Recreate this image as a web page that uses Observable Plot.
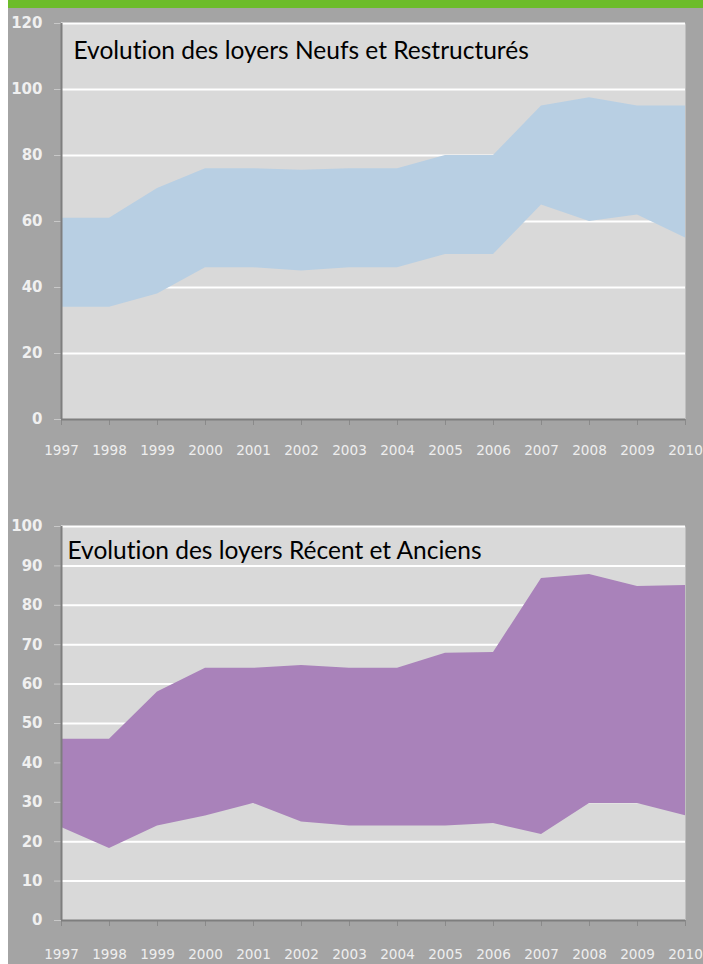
<!DOCTYPE html>
<html>
<head>
<meta charset="utf-8">
<script src="https://cdn.jsdelivr.net/npm/d3@7"></script>
<script src="https://cdn.jsdelivr.net/npm/@observablehq/plot@0.6"></script>
<style>
  html, body { margin: 0; padding: 0; }
  body { width: 703px; height: 964px; background: #a4a4a4; position: relative; overflow: hidden; }
  #strip { position: absolute; left: 0; top: 0; width: 8px; height: 964px; background: #ffffff; }
  #green { position: absolute; left: 8px; top: 0; width: 695px; height: 8px; background: #6cbc2a; }
  #c1 { position: absolute; left: 0; top: 8px; }
  #c2 { position: absolute; left: 0; top: 478px; }
  svg { display: block; }
  svg text { font-variant-ligatures: none; }
</style>
</head>
<body>
<div id="strip"></div>
<div id="green"></div>
<div id="c1"></div>
<div id="c2"></div>
<script>
const years = [1997, 1998, 1999, 2000, 2001, 2002, 2003, 2004, 2005, 2006, 2007, 2008, 2009, 2010];
// Loyers Neufs et Restructurés
const neufsBas  = [34, 34, 38, 46, 46, 45, 46, 46, 50, 50, 65, 60, 62, 55];
const neufsHaut = [61, 61, 70, 76, 76, 75.5, 76, 76, 80, 80, 95, 97.5, 95, 95];
// Loyers Récent et Anciens
const recentsBas  = [23.6, 18.3, 24, 26.5, 29.7, 25, 24, 24, 24, 24.6, 21.8, 29.7, 29.7, 26.6];
const recentsHaut = [46, 46, 58, 64, 64, 64.7, 64, 64, 67.8, 68, 86.8, 87.8, 84.8, 85];

const title1 = "Evolution des loyers Neufs et Restructurés";
const title2 = "Evolution des loyers Récent et Anciens";
const yTicks1 = [0, 20, 40, 60, 80, 100, 120];
const yTicks2 = [0, 10, 20, 30, 40, 50, 60, 70, 80, 90, 100];

function makeChart({bas, haut, fill, title, yTicks, yMax, height, marginTop, marginBottom, xPad, titleDx, titleDy}) {
  const data = years.map((y, i) => ({year: y, lo: bas[i], hi: haut[i]}));
  return Plot.plot({
    width: 703,
    height,
    marginLeft: 61,
    marginRight: 18,
    marginTop,
    marginBottom,
    style: {background: "transparent", fontFamily: "DejaVu Sans", fontSize: "15px"},
    x: {domain: [1997, 2010]},
    y: {domain: [0, yMax]},
    marks: [
      Plot.frame({fill: "#d9d9d9", stroke: null}),
      Plot.ruleY(yTicks.filter(d => d > 0), {stroke: "#ffffff", strokeWidth: 2}),
      Plot.areaY(data, {x: "year", y1: "lo", y2: "hi", fill, fillOpacity: 1}),
      Plot.axisY({ticks: yTicks, tickSize: 7, tickPadding: 12, stroke: "#c8c8c8", fill: "#f0f0f0", fontSize: 15, fontWeight: "bold", label: null}),
      Plot.axisX({ticks: years, tickFormat: d => String(d), tickSize: 6, tickPadding: xPad, stroke: "#8a8a8a", fill: "#eeeeee", fontSize: 13.6, label: null}),
      Plot.ruleX([1997], {stroke: "#7e7e7e", strokeWidth: 2}),
      Plot.ruleY([0], {stroke: "#7e7e7e", strokeWidth: 2}),
      Plot.text([title], {frameAnchor: "top-left", text: d => d, dx: titleDx, dy: titleDy, fontSize: 24.5, fontFamily: "Lato", fill: "#000000", textAnchor: "start", lineAnchor: "top"})
    ]
  });
}

document.getElementById("c1").appendChild(makeChart({
  bas: neufsBas, haut: neufsHaut, fill: "#b8cfe3", title: title1, yTicks: yTicks1, yMax: 120,
  height: 470, marginTop: 15, marginBottom: 59, xPad: 20, titleDx: 12, titleDy: 18
}));
document.getElementById("c2").appendChild(makeChart({
  bas: recentsBas, haut: recentsHaut, fill: "#a982ba", title: title2, yTicks: yTicks2, yMax: 100,
  height: 486, marginTop: 48, marginBottom: 44, xPad: 23, titleDx: 6, titleDy: 15
}));
</script>
</body>
</html>
